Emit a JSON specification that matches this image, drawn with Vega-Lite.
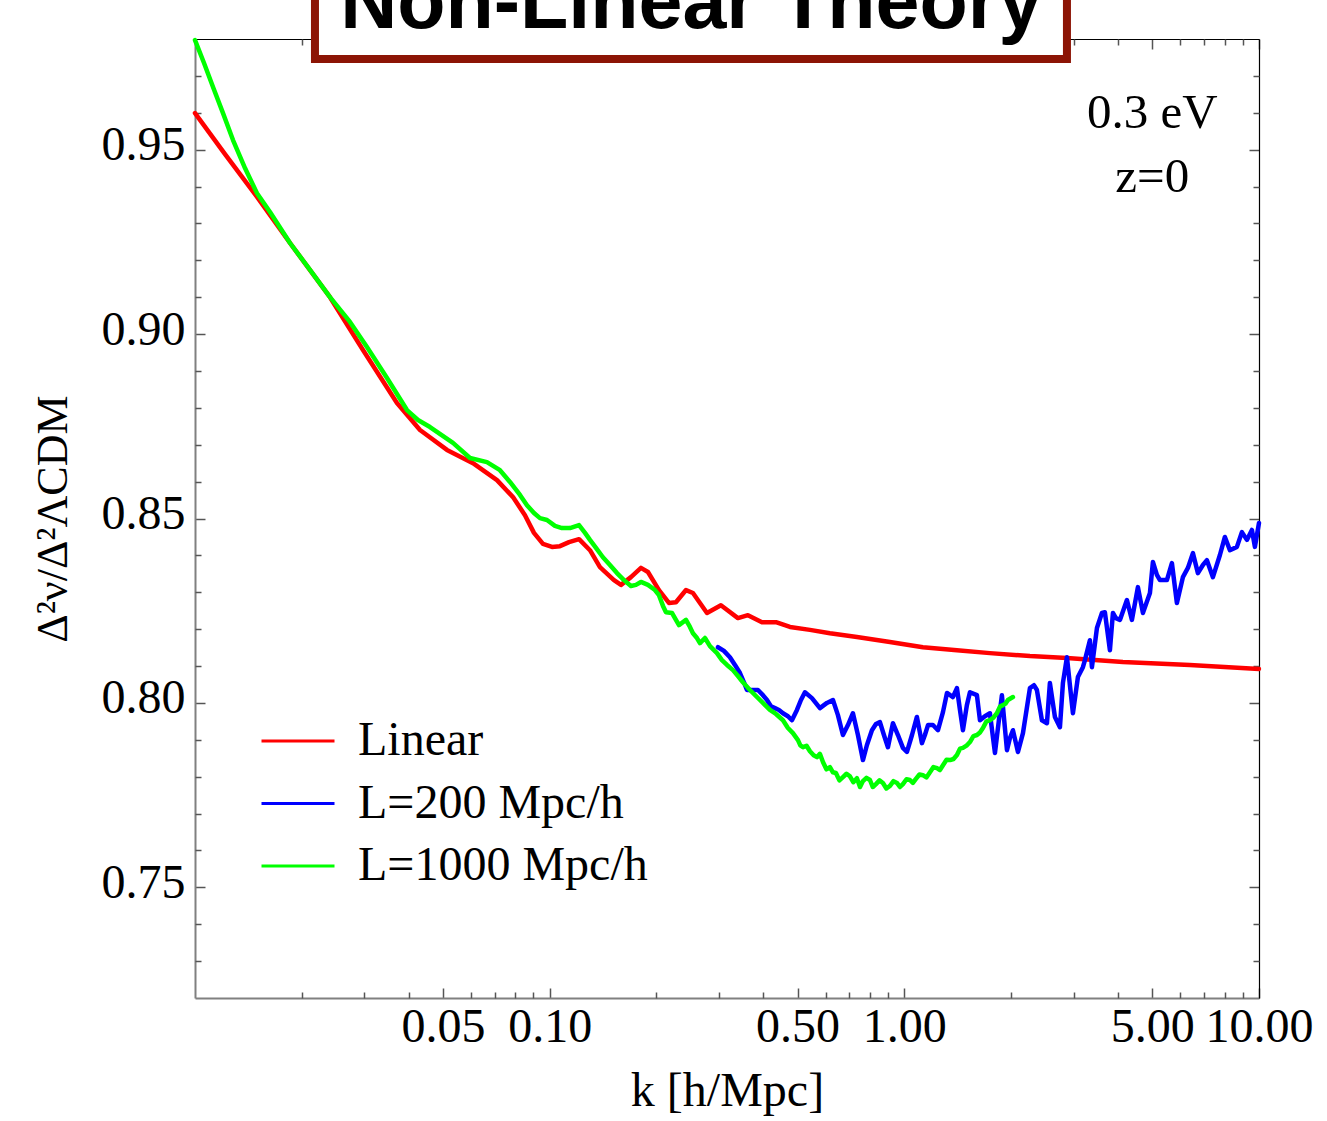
{
"$schema": "https://vega.github.io/schema/vega-lite/v6.json",
"width": 1064, "height": 959,
"autosize": {"type": "none"},
"padding": {"left": 195, "top": 39, "right": 68, "bottom": 123},
"background": "white",
"config": {
  "view": {"stroke": null},
  "font": "Liberation Serif",
  "axis": {"grid": false, "labelFont": "Liberation Serif", "labelFontSize": 48, "labelColor": "black",
    "titleFont": "Liberation Serif", "titleFontSize": 48, "titleFontWeight": "normal", "titleColor": "black",
    "tickColor": "#555555", "tickWidth": 1.5, "domainColor": "#808080", "domainWidth": 2,
    "labelFlush": false, "labelOverlap": false, "labelBound": false}
},
"resolve": {"axis": {"x": "independent", "y": "independent"}},
"layer": [
{
  "data": {"values": [
{"series":"Linear","k":0.01,"y":0.9599},
{"series":"Linear","k":0.01215,"y":0.9488},
{"series":"Linear","k":0.01496,"y":0.9372},
{"series":"Linear","k":0.01853,"y":0.9247},
{"series":"Linear","k":0.02402,"y":0.9100},
{"series":"Linear","k":0.02976,"y":0.8957},
{"series":"Linear","k":0.03711,"y":0.8813},
{"series":"Linear","k":0.04309,"y":0.8740},
{"series":"Linear","k":0.05134,"y":0.8686},
{"series":"Linear","k":0.06078,"y":0.8650},
{"series":"Linear","k":0.07103,"y":0.8604},
{"series":"Linear","k":0.0788,"y":0.8558},
{"series":"Linear","k":0.08518,"y":0.8509},
{"series":"Linear","k":0.09031,"y":0.8461},
{"series":"Linear","k":0.09574,"y":0.8431},
{"series":"Linear","k":0.1015,"y":0.8423},
{"series":"Linear","k":0.1069,"y":0.8425},
{"series":"Linear","k":0.1134,"y":0.8436},
{"series":"Linear","k":0.1210,"y":0.8444},
{"series":"Linear","k":0.1299,"y":0.8414},
{"series":"Linear","k":0.1386,"y":0.8368},
{"series":"Linear","k":0.1518,"y":0.8333},
{"series":"Linear","k":0.1589,"y":0.8320},
{"series":"Linear","k":0.1695,"y":0.8341},
{"series":"Linear","k":0.1809,"y":0.8366},
{"series":"Linear","k":0.1893,"y":0.8355},
{"series":"Linear","k":0.2033,"y":0.8306},
{"series":"Linear","k":0.2169,"y":0.8271},
{"series":"Linear","k":0.2270,"y":0.8273},
{"series":"Linear","k":0.2423,"y":0.8306},
{"series":"Linear","k":0.2535,"y":0.8298},
{"series":"Linear","k":0.2777,"y":0.8244},
{"series":"Linear","k":0.3040,"y":0.8265},
{"series":"Linear","k":0.3395,"y":0.8230},
{"series":"Linear","k":0.3623,"y":0.8238},
{"series":"Linear","k":0.3968,"y":0.8219},
{"series":"Linear","k":0.4345,"y":0.8219},
{"series":"Linear","k":0.4759,"y":0.8206},
{"series":"Linear","k":0.5418,"y":0.8198},
{"series":"Linear","k":0.6169,"y":0.8189},
{"series":"Linear","k":0.7351,"y":0.8179},
{"series":"Linear","k":0.9109,"y":0.8165},
{"series":"Linear","k":1.128,"y":0.8151},
{"series":"Linear","k":1.407,"y":0.8143},
{"series":"Linear","k":1.743,"y":0.8135},
{"series":"Linear","k":2.260,"y":0.8127},
{"series":"Linear","k":2.874,"y":0.8122},
{"series":"Linear","k":4.133,"y":0.8111},
{"series":"Linear","k":6.385,"y":0.8103},
{"series":"Linear","k":10,"y":0.8092},
{"series":"L=200 Mpc/h","k":0.2982,"y":0.8151},
{"series":"L=200 Mpc/h","k":0.3100,"y":0.8141},
{"series":"L=200 Mpc/h","k":0.3223,"y":0.8124},
{"series":"L=200 Mpc/h","k":0.3330,"y":0.8103},
{"series":"L=200 Mpc/h","k":0.3440,"y":0.8081},
{"series":"L=200 Mpc/h","k":0.3530,"y":0.8056},
{"series":"L=200 Mpc/h","k":0.3600,"y":0.8035},
{"series":"L=200 Mpc/h","k":0.3718,"y":0.8035},
{"series":"L=200 Mpc/h","k":0.3866,"y":0.8035},
{"series":"L=200 Mpc/h","k":0.3993,"y":0.8021},
{"series":"L=200 Mpc/h","k":0.4099,"y":0.8008},
{"series":"L=200 Mpc/h","k":0.4206,"y":0.7991},
{"series":"L=200 Mpc/h","k":0.4317,"y":0.7986},
{"series":"L=200 Mpc/h","k":0.4431,"y":0.7981},
{"series":"L=200 Mpc/h","k":0.4548,"y":0.7972},
{"series":"L=200 Mpc/h","k":0.4697,"y":0.7964},
{"series":"L=200 Mpc/h","k":0.4820,"y":0.7953},
{"series":"L=200 Mpc/h","k":0.4980,"y":0.7981},
{"series":"L=200 Mpc/h","k":0.5111,"y":0.8008},
{"series":"L=200 Mpc/h","k":0.5245,"y":0.8029},
{"series":"L=200 Mpc/h","k":0.5489,"y":0.8013},
{"series":"L=200 Mpc/h","k":0.5782,"y":0.7986},
{"series":"L=200 Mpc/h","k":0.6051,"y":0.8000},
{"series":"L=200 Mpc/h","k":0.6291,"y":0.8008},
{"series":"L=200 Mpc/h","k":0.6498,"y":0.7967},
{"series":"L=200 Mpc/h","k":0.6713,"y":0.7913},
{"series":"L=200 Mpc/h","k":0.6934,"y":0.7940},
{"series":"L=200 Mpc/h","k":0.7163,"y":0.7972},
{"series":"L=200 Mpc/h","k":0.7399,"y":0.7913},
{"series":"L=200 Mpc/h","k":0.7643,"y":0.7845},
{"series":"L=200 Mpc/h","k":0.7845,"y":0.7886},
{"series":"L=200 Mpc/h","k":0.8103,"y":0.7926},
{"series":"L=200 Mpc/h","k":0.8317,"y":0.7943},
{"series":"L=200 Mpc/h","k":0.8535,"y":0.7948},
{"series":"L=200 Mpc/h","k":0.8759,"y":0.7913},
{"series":"L=200 Mpc/h","k":0.8990,"y":0.7880},
{"series":"L=200 Mpc/h","k":0.9286,"y":0.7945},
{"series":"L=200 Mpc/h","k":0.9594,"y":0.7913},
{"series":"L=200 Mpc/h","k":0.9909,"y":0.7878},
{"series":"L=200 Mpc/h","k":1.017,"y":0.7867},
{"series":"L=200 Mpc/h","k":1.051,"y":0.7913},
{"series":"L=200 Mpc/h","k":1.085,"y":0.7962},
{"series":"L=200 Mpc/h","k":1.121,"y":0.7891},
{"series":"L=200 Mpc/h","k":1.143,"y":0.7913},
{"series":"L=200 Mpc/h","k":1.166,"y":0.7940},
{"series":"L=200 Mpc/h","k":1.204,"y":0.7940},
{"series":"L=200 Mpc/h","k":1.244,"y":0.7926},
{"series":"L=200 Mpc/h","k":1.285,"y":0.7975},
{"series":"L=200 Mpc/h","k":1.319,"y":0.8027},
{"series":"L=200 Mpc/h","k":1.371,"y":0.8016},
{"series":"L=200 Mpc/h","k":1.407,"y":0.8040},
{"series":"L=200 Mpc/h","k":1.435,"y":0.7981},
{"series":"L=200 Mpc/h","k":1.463,"y":0.7926},
{"series":"L=200 Mpc/h","k":1.501,"y":0.7994},
{"series":"L=200 Mpc/h","k":1.531,"y":0.8029},
{"series":"L=200 Mpc/h","k":1.602,"y":0.8021},
{"series":"L=200 Mpc/h","k":1.634,"y":0.7953},
{"series":"L=200 Mpc/h","k":1.687,"y":0.7964},
{"series":"L=200 Mpc/h","k":1.743,"y":0.7972},
{"series":"L=200 Mpc/h","k":1.801,"y":0.7864},
{"series":"L=200 Mpc/h","k":1.884,"y":0.8021},
{"series":"L=200 Mpc/h","k":1.947,"y":0.7872},
{"series":"L=200 Mpc/h","k":1.985,"y":0.7905},
{"series":"L=200 Mpc/h","k":2.024,"y":0.7926},
{"series":"L=200 Mpc/h","k":2.091,"y":0.7867},
{"series":"L=200 Mpc/h","k":2.160,"y":0.7918},
{"series":"L=200 Mpc/h","k":2.260,"y":0.8040},
{"series":"L=200 Mpc/h","k":2.320,"y":0.8048},
{"series":"L=200 Mpc/h","k":2.365,"y":0.8035},
{"series":"L=200 Mpc/h","k":2.443,"y":0.7953},
{"series":"L=200 Mpc/h","k":2.524,"y":0.7945},
{"series":"L=200 Mpc/h","k":2.573,"y":0.8054},
{"series":"L=200 Mpc/h","k":2.658,"y":0.7962},
{"series":"L=200 Mpc/h","k":2.746,"y":0.7934},
{"series":"L=200 Mpc/h","k":2.800,"y":0.8054},
{"series":"L=200 Mpc/h","k":2.874,"y":0.8124},
{"series":"L=200 Mpc/h","k":2.930,"y":0.8048},
{"series":"L=200 Mpc/h","k":2.988,"y":0.7972},
{"series":"L=200 Mpc/h","k":3.086,"y":0.8070},
{"series":"L=200 Mpc/h","k":3.188,"y":0.8097},
{"series":"L=200 Mpc/h","k":3.230,"y":0.8116},
{"series":"L=200 Mpc/h","k":3.336,"y":0.8170},
{"series":"L=200 Mpc/h","k":3.380,"y":0.8097},
{"series":"L=200 Mpc/h","k":3.492,"y":0.8203},
{"series":"L=200 Mpc/h","k":3.607,"y":0.8244},
{"series":"L=200 Mpc/h","k":3.677,"y":0.8246},
{"series":"L=200 Mpc/h","k":3.799,"y":0.8143},
{"series":"L=200 Mpc/h","k":3.874,"y":0.8244},
{"series":"L=200 Mpc/h","k":3.950,"y":0.8230},
{"series":"L=200 Mpc/h","k":4.054,"y":0.8225},
{"series":"L=200 Mpc/h","k":4.242,"y":0.8279},
{"series":"L=200 Mpc/h","k":4.382,"y":0.8225},
{"series":"L=200 Mpc/h","k":4.556,"y":0.8314},
{"series":"L=200 Mpc/h","k":4.706,"y":0.8244},
{"series":"L=200 Mpc/h","k":4.926,"y":0.8298},
{"series":"L=200 Mpc/h","k":5.022,"y":0.8382},
{"series":"L=200 Mpc/h","k":5.154,"y":0.8347},
{"series":"L=200 Mpc/h","k":5.256,"y":0.8333},
{"series":"L=200 Mpc/h","k":5.500,"y":0.8333},
{"series":"L=200 Mpc/h","k":5.681,"y":0.8379},
{"series":"L=200 Mpc/h","k":5.868,"y":0.8271},
{"series":"L=200 Mpc/h","k":6.101,"y":0.8341},
{"series":"L=200 Mpc/h","k":6.303,"y":0.8366},
{"series":"L=200 Mpc/h","k":6.511,"y":0.8406},
{"series":"L=200 Mpc/h","k":6.726,"y":0.8352},
{"series":"L=200 Mpc/h","k":6.948,"y":0.8374},
{"series":"L=200 Mpc/h","k":7.131,"y":0.8387},
{"series":"L=200 Mpc/h","k":7.414,"y":0.8341},
{"series":"L=200 Mpc/h","k":7.759,"y":0.8401},
{"series":"L=200 Mpc/h","k":8.014,"y":0.8450},
{"series":"L=200 Mpc/h","k":8.279,"y":0.8414},
{"series":"L=200 Mpc/h","k":8.664,"y":0.8423},
{"series":"L=200 Mpc/h","k":8.949,"y":0.8463},
{"series":"L=200 Mpc/h","k":9.245,"y":0.8442},
{"series":"L=200 Mpc/h","k":9.550,"y":0.8469},
{"series":"L=200 Mpc/h","k":9.737,"y":0.8423},
{"series":"L=200 Mpc/h","k":10,"y":0.8488},
{"series":"L=1000 Mpc/h","k":0.01,"y":0.9797},
{"series":"L=1000 Mpc/h","k":0.010602,"y":0.9735},
{"series":"L=1000 Mpc/h","k":0.01124,"y":0.9670},
{"series":"L=1000 Mpc/h","k":0.011993,"y":0.9599},
{"series":"L=1000 Mpc/h","k":0.012798,"y":0.9526},
{"series":"L=1000 Mpc/h","k":0.013834,"y":0.9450},
{"series":"L=1000 Mpc/h","k":0.014956,"y":0.9382},
{"series":"L=1000 Mpc/h","k":0.016272,"y":0.9331},
{"series":"L=1000 Mpc/h","k":0.01853,"y":0.9247},
{"series":"L=1000 Mpc/h","k":0.021098,"y":0.9174},
{"series":"L=1000 Mpc/h","k":0.02402,"y":0.9100},
{"series":"L=1000 Mpc/h","k":0.02735,"y":0.9033},
{"series":"L=1000 Mpc/h","k":0.03054,"y":0.8965},
{"series":"L=1000 Mpc/h","k":0.03478,"y":0.8881},
{"series":"L=1000 Mpc/h","k":0.0396,"y":0.8794},
{"series":"L=1000 Mpc/h","k":0.04253,"y":0.8767},
{"series":"L=1000 Mpc/h","k":0.04598,"y":0.8748},
{"series":"L=1000 Mpc/h","k":0.05338,"y":0.8705},
{"series":"L=1000 Mpc/h","k":0.05961,"y":0.8664},
{"series":"L=1000 Mpc/h","k":0.06656,"y":0.8653},
{"series":"L=1000 Mpc/h","k":0.07242,"y":0.8631},
{"series":"L=1000 Mpc/h","k":0.07728,"y":0.8599},
{"series":"L=1000 Mpc/h","k":0.08247,"y":0.8564},
{"series":"L=1000 Mpc/h","k":0.0863,"y":0.8536},
{"series":"L=1000 Mpc/h","k":0.09031,"y":0.8515},
{"series":"L=1000 Mpc/h","k":0.09391,"y":0.8501},
{"series":"L=1000 Mpc/h","k":0.09828,"y":0.8496},
{"series":"L=1000 Mpc/h","k":0.1035,"y":0.8480},
{"series":"L=1000 Mpc/h","k":0.1083,"y":0.8474},
{"series":"L=1000 Mpc/h","k":0.1141,"y":0.8474},
{"series":"L=1000 Mpc/h","k":0.1210,"y":0.8482},
{"series":"L=1000 Mpc/h","k":0.1258,"y":0.8461},
{"series":"L=1000 Mpc/h","k":0.1299,"y":0.8442},
{"series":"L=1000 Mpc/h","k":0.1359,"y":0.8417},
{"series":"L=1000 Mpc/h","k":0.1413,"y":0.8395},
{"series":"L=1000 Mpc/h","k":0.1479,"y":0.8374},
{"series":"L=1000 Mpc/h","k":0.1548,"y":0.8352},
{"series":"L=1000 Mpc/h","k":0.1620,"y":0.8333},
{"series":"L=1000 Mpc/h","k":0.1695,"y":0.8317},
{"series":"L=1000 Mpc/h","k":0.1751,"y":0.8320},
{"series":"L=1000 Mpc/h","k":0.1809,"y":0.8328},
{"series":"L=1000 Mpc/h","k":0.1893,"y":0.8320},
{"series":"L=1000 Mpc/h","k":0.1981,"y":0.8306},
{"series":"L=1000 Mpc/h","k":0.2033,"y":0.8292},
{"series":"L=1000 Mpc/h","k":0.2087,"y":0.8263},
{"series":"L=1000 Mpc/h","k":0.2128,"y":0.8246},
{"series":"L=1000 Mpc/h","k":0.2212,"y":0.8244},
{"series":"L=1000 Mpc/h","k":0.2270,"y":0.8225},
{"series":"L=1000 Mpc/h","k":0.2315,"y":0.8211},
{"series":"L=1000 Mpc/h","k":0.2423,"y":0.8225},
{"series":"L=1000 Mpc/h","k":0.2486,"y":0.8206},
{"series":"L=1000 Mpc/h","k":0.2535,"y":0.8189},
{"series":"L=1000 Mpc/h","k":0.2602,"y":0.8176},
{"series":"L=1000 Mpc/h","k":0.2653,"y":0.8162},
{"series":"L=1000 Mpc/h","k":0.2741,"y":0.8176},
{"series":"L=1000 Mpc/h","k":0.2831,"y":0.8154},
{"series":"L=1000 Mpc/h","k":0.2963,"y":0.8135},
{"series":"L=1000 Mpc/h","k":0.3060,"y":0.8116},
{"series":"L=1000 Mpc/h","k":0.3162,"y":0.8103},
{"series":"L=1000 Mpc/h","k":0.3287,"y":0.8089},
{"series":"L=1000 Mpc/h","k":0.3395,"y":0.8073},
{"series":"L=1000 Mpc/h","k":0.3507,"y":0.8056},
{"series":"L=1000 Mpc/h","k":0.3670,"y":0.8035},
{"series":"L=1000 Mpc/h","k":0.3841,"y":0.8016},
{"series":"L=1000 Mpc/h","k":0.3993,"y":0.8000},
{"series":"L=1000 Mpc/h","k":0.4179,"y":0.7981},
{"series":"L=1000 Mpc/h","k":0.4345,"y":0.7970},
{"series":"L=1000 Mpc/h","k":0.4548,"y":0.7953},
{"series":"L=1000 Mpc/h","k":0.4697,"y":0.7932},
{"series":"L=1000 Mpc/h","k":0.4852,"y":0.7918},
{"series":"L=1000 Mpc/h","k":0.5013,"y":0.7899},
{"series":"L=1000 Mpc/h","k":0.509,"y":0.7885},
{"series":"L=1000 Mpc/h","k":0.5178,"y":0.7880},
{"series":"L=1000 Mpc/h","k":0.530,"y":0.7884},
{"series":"L=1000 Mpc/h","k":0.5418,"y":0.7869},
{"series":"L=1000 Mpc/h","k":0.555,"y":0.7858},
{"series":"L=1000 Mpc/h","k":0.5670,"y":0.7853},
{"series":"L=1000 Mpc/h","k":0.578,"y":0.7862},
{"series":"L=1000 Mpc/h","k":0.5896,"y":0.7840},
{"series":"L=1000 Mpc/h","k":0.603,"y":0.7820},
{"series":"L=1000 Mpc/h","k":0.6169,"y":0.7826},
{"series":"L=1000 Mpc/h","k":0.629,"y":0.7812},
{"series":"L=1000 Mpc/h","k":0.6414,"y":0.7810},
{"series":"L=1000 Mpc/h","k":0.656,"y":0.7790},
{"series":"L=1000 Mpc/h","k":0.6713,"y":0.7799},
{"series":"L=1000 Mpc/h","k":0.687,"y":0.7808},
{"series":"L=1000 Mpc/h","k":0.7024,"y":0.7801},
{"series":"L=1000 Mpc/h","k":0.718,"y":0.7785},
{"series":"L=1000 Mpc/h","k":0.7351,"y":0.7796},
{"series":"L=1000 Mpc/h","k":0.750,"y":0.7772},
{"series":"L=1000 Mpc/h","k":0.7643,"y":0.7788},
{"series":"L=1000 Mpc/h","k":0.782,"y":0.7797},
{"series":"L=1000 Mpc/h","k":0.7999,"y":0.7791},
{"series":"L=1000 Mpc/h","k":0.815,"y":0.7772},
{"series":"L=1000 Mpc/h","k":0.8317,"y":0.7780},
{"series":"L=1000 Mpc/h","k":0.851,"y":0.7790},
{"series":"L=1000 Mpc/h","k":0.8703,"y":0.7783},
{"series":"L=1000 Mpc/h","k":0.890,"y":0.7768},
{"series":"L=1000 Mpc/h","k":0.9109,"y":0.7775},
{"series":"L=1000 Mpc/h","k":0.932,"y":0.7788},
{"series":"L=1000 Mpc/h","k":0.9532,"y":0.7783},
{"series":"L=1000 Mpc/h","k":0.972,"y":0.7772},
{"series":"L=1000 Mpc/h","k":0.9909,"y":0.7780},
{"series":"L=1000 Mpc/h","k":1.014,"y":0.7793},
{"series":"L=1000 Mpc/h","k":1.037,"y":0.7791},
{"series":"L=1000 Mpc/h","k":1.057,"y":0.7783},
{"series":"L=1000 Mpc/h","k":1.078,"y":0.7794},
{"series":"L=1000 Mpc/h","k":1.103,"y":0.7806},
{"series":"L=1000 Mpc/h","k":1.128,"y":0.7804},
{"series":"L=1000 Mpc/h","k":1.154,"y":0.7798},
{"series":"L=1000 Mpc/h","k":1.181,"y":0.7812},
{"series":"L=1000 Mpc/h","k":1.208,"y":0.7826},
{"series":"L=1000 Mpc/h","k":1.236,"y":0.7823},
{"series":"L=1000 Mpc/h","k":1.26,"y":0.7818},
{"series":"L=1000 Mpc/h","k":1.285,"y":0.7831},
{"series":"L=1000 Mpc/h","k":1.315,"y":0.7846},
{"series":"L=1000 Mpc/h","k":1.345,"y":0.7845},
{"series":"L=1000 Mpc/h","k":1.376,"y":0.7848},
{"series":"L=1000 Mpc/h","k":1.407,"y":0.7859},
{"series":"L=1000 Mpc/h","k":1.435,"y":0.7876},
{"series":"L=1000 Mpc/h","k":1.463,"y":0.7878},
{"series":"L=1000 Mpc/h","k":1.497,"y":0.7884},
{"series":"L=1000 Mpc/h","k":1.531,"y":0.7894},
{"series":"L=1000 Mpc/h","k":1.566,"y":0.7910},
{"series":"L=1000 Mpc/h","k":1.602,"y":0.7913},
{"series":"L=1000 Mpc/h","k":1.634,"y":0.7920},
{"series":"L=1000 Mpc/h","k":1.666,"y":0.7932},
{"series":"L=1000 Mpc/h","k":1.704,"y":0.7950},
{"series":"L=1000 Mpc/h","k":1.743,"y":0.7953},
{"series":"L=1000 Mpc/h","k":1.783,"y":0.7960},
{"series":"L=1000 Mpc/h","k":1.824,"y":0.7972},
{"series":"L=1000 Mpc/h","k":1.86,"y":0.7990},
{"series":"L=1000 Mpc/h","k":1.897,"y":0.7994},
{"series":"L=1000 Mpc/h","k":1.928,"y":0.7998},
{"series":"L=1000 Mpc/h","k":1.959,"y":0.8008},
{"series":"L=1000 Mpc/h","k":2.024,"y":0.8016}
  ]},
  "mark": {"type": "line", "strokeWidth": 4.5, "strokeJoin": "round", "strokeCap": "round"},
  "encoding": {
    "x": {"field": "k", "type": "quantitative",
      "scale": {"type": "log", "domain": [0.01, 10], "nice": false},
      "axis": {"orient": "bottom", "values": [0.05, 0.1, 0.5, 1, 5, 10], "format": ".2f", "tickSize": -10,
        "labelPadding": 15, "title": "k [h/Mpc]", "titlePadding": 16}},
    "y": {"field": "y", "type": "quantitative",
      "scale": {"domain": [0.72, 0.98], "nice": false, "zero": false},
      "axis": {"orient": "left", "values": [0.75, 0.8, 0.85, 0.9, 0.95], "format": ".2f", "tickSize": -10,
        "labelPadding": 20, "labelOffset": -4, "title": "Δ²ν/Δ²ΛCDM", "titleFontSize": 44, "titlePadding": 26}},
    "color": {"field": "series", "type": "nominal",
      "scale": {"domain": ["Linear", "L=200 Mpc/h", "L=1000 Mpc/h"], "range": ["#ff0000", "#0000ff", "#00ff00"]},
      "legend": {"orient": "none", "legendX": 65, "legendY": 673, "title": null, "padding": 0,
        "symbolType": "stroke", "symbolSize": 5329, "symbolStrokeWidth": 3,
        "labelFont": "Liberation Serif", "labelFontSize": 48, "labelColor": "black", "labelOffset": 22,
        "labelLimit": 500, "clipHeight": 58, "rowPadding": 4.5}}
  }
},
{
  "data": {"values": [{}]},
  "mark": {"type": "text", "font": "Liberation Serif", "fontSize": 49, "align": "center", "baseline": "alphabetic", "lineHeight": 64, "color": "black"},
  "encoding": {
    "x": {"datum": 5, "type": "quantitative",
      "axis": {"orient": "top", "values": [0.05, 0.1, 0.5, 1, 5, 10], "labels": false, "tickSize": -10, "title": null, "domainColor": "black", "domainWidth": 1.2}},
    "y": {"datum": 0.9559, "type": "quantitative",
      "axis": {"orient": "right", "values": [0.75, 0.8, 0.85, 0.9, 0.95], "labels": false, "tickSize": -10, "title": null, "domainColor": "black", "domainWidth": 1.2}},
    "text": {"value": ["0.3 eV", "z=0"]}
  }
},
{
  "data": {"values": [{}]},
  "mark": {"type": "rect", "fill": "white", "stroke": "#8c1405", "strokeWidth": 8},
  "encoding": {
    "x": {"datum": 0.02179, "type": "quantitative",
      "axis": {"orient": "bottom", "values": [0.02,0.03,0.04,0.06,0.07,0.08,0.09,0.2,0.3,0.4,0.6,0.7,0.8,0.9,2,3,4,6,7,8,9], "labels": false, "tickSize": -6, "domain": false, "title": null}},
    "x2": {"datum": 2.874},
    "y": {"datum": 0.9746, "type": "quantitative",
      "axis": {"orient": "left", "values": [0.73,0.74,0.76,0.77,0.78,0.79,0.81,0.82,0.83,0.84,0.86,0.87,0.88,0.89,0.91,0.92,0.93,0.94,0.96,0.97], "labels": false, "tickSize": -6, "domain": false, "title": null}},
    "y2": {"datum": 0.9987}
  }
},
{
  "data": {"values": [{}]},
  "mark": {"type": "text", "font": "Liberation Sans", "fontWeight": "bold", "fontSize": 79, "align": "center", "baseline": "alphabetic", "color": "black"},
  "encoding": {
    "x": {"datum": 0.2508, "type": "quantitative",
      "axis": {"orient": "top", "values": [0.02,0.03,0.04,0.06,0.07,0.08,0.09,0.2,0.3,0.4,0.6,0.7,0.8,0.9,2,3,4,6,7,8,9], "labels": false, "tickSize": -6, "domain": false, "title": null}},
    "y": {"datum": 0.983, "type": "quantitative",
      "axis": {"orient": "right", "values": [0.73,0.74,0.76,0.77,0.78,0.79,0.81,0.82,0.83,0.84,0.86,0.87,0.88,0.89,0.91,0.92,0.93,0.94,0.96,0.97], "labels": false, "tickSize": -6, "domain": false, "title": null}},
    "text": {"value": "Non-Linear Theory"}
  }
}
]
}
